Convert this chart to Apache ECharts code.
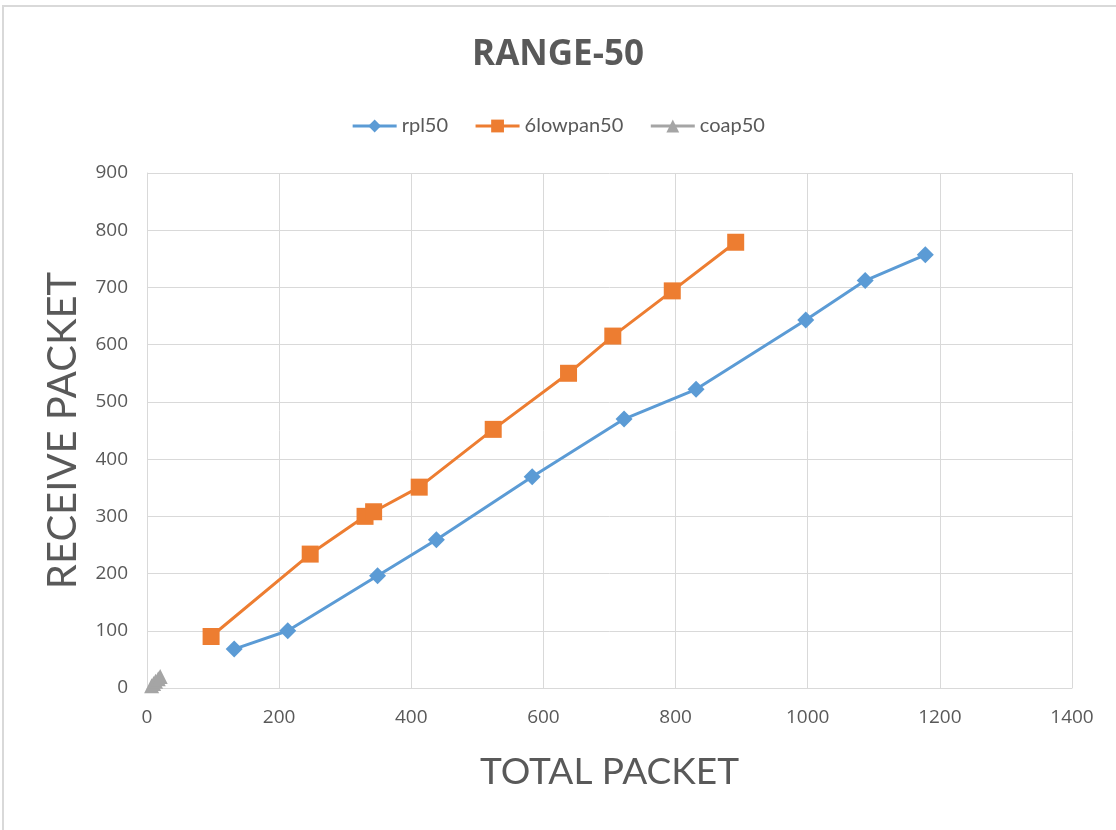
<!DOCTYPE html>
<html>
<head>
<meta charset="utf-8">
<title>RANGE-50</title>
<script src="https://cdn.jsdelivr.net/npm/echarts@6/dist/echarts.min.js"></script>
<style>
  html, body { margin: 0; padding: 0; background: #ffffff; }
  #chart { width: 1116px; height: 830px; }
</style>
</head>
<body>
<div id="chart"></div>
<script>
// Total packets sent vs. packets received, per protocol
const rplTotal = [132, 213, 349, 438, 583, 722, 831, 997, 1087, 1178];
const rplRecv  = [68, 100, 196, 259, 369, 470, 522, 643, 712, 757];

const lowpanTotal = [97, 247, 330, 343, 412, 524, 638, 705, 795, 891];
const lowpanRecv  = [90, 234, 300, 308, 351, 452, 550, 615, 694, 779];

const coapTotal = [7, 10, 13, 17, 20];
const coapRecv  = [4, 8, 12, 16, 20];

const xTicks = [0, 200, 400, 600, 800, 1000, 1200, 1400];
const yTicks = [0, 100, 200, 300, 400, 500, 600, 700, 800, 900];

const pairs = (xs, ys) => xs.map((x, i) => [x, ys[i]]);

const textGray = '#595959';
const gridGray = '#d9d9d9';
const font = 'Lato, "Open Sans", sans-serif';
const tickFont = '"Open Sans", sans-serif';

const chart = echarts.init(document.getElementById('chart'));
chart.setOption({
  animation: false,
  backgroundColor: '#ffffff',
  title: {
    text: 'RANGE-50',
    left: 'center',
    top: 33,
    textStyle: { fontFamily: '"Open Sans", sans-serif', fontWeight: 'bold', fontSize: 35, color: textGray }
  },
  legend: {
    top: 111,
    left: 'center',
    itemWidth: 44,
    itemHeight: 16,
    itemGap: 26,
    lineStyle: { width: 3 },
    textStyle: { fontFamily: font, fontSize: 20, color: textGray },
    data: ['rpl50', '6lowpan50', 'coap50']
  },
  grid: { left: 147, right: 44, top: 173, bottom: 142 },
  xAxis: {
    type: 'value',
    min: xTicks[0],
    max: xTicks[xTicks.length - 1],
    interval: 200,
    name: 'TOTAL PACKET',
    nameLocation: 'middle',
    nameGap: 66,
    nameTextStyle: { fontFamily: font, fontSize: 37, color: textGray },
    axisLine: { show: true, lineStyle: { color: gridGray, width: 1 } },
    axisTick: { show: false },
    axisLabel: { fontFamily: tickFont, fontSize: 19, color: textGray, margin: 20, formatter: v => String(v) },
    splitLine: { show: true, lineStyle: { color: gridGray, width: 1 } }
  },
  yAxis: {
    type: 'value',
    min: yTicks[0],
    max: yTicks[yTicks.length - 1],
    interval: 100,
    name: 'RECEIVE PACKET',
    nameLocation: 'middle',
    nameGap: 64,
    nameTextStyle: { fontFamily: font, fontSize: 40, color: textGray },
    axisLine: { show: true, lineStyle: { color: gridGray, width: 1 } },
    axisTick: { show: false },
    axisLabel: { fontFamily: tickFont, fontSize: 19, color: textGray, margin: 19, formatter: v => String(v) },
    splitLine: { show: true, lineStyle: { color: gridGray, width: 1 } }
  },
  series: [
    {
      name: 'rpl50',
      type: 'line',
      data: pairs(rplTotal, rplRecv),
      symbol: 'diamond',
      symbolSize: 17,
      lineStyle: { color: '#5B9BD5', width: 3 },
      itemStyle: { color: '#5B9BD5' }
    },
    {
      name: '6lowpan50',
      type: 'line',
      data: pairs(lowpanTotal, lowpanRecv),
      symbol: 'rect',
      symbolSize: 17,
      lineStyle: { color: '#ED7D31', width: 3 },
      itemStyle: { color: '#ED7D31' }
    },
    {
      name: 'coap50',
      type: 'line',
      data: pairs(coapTotal, coapRecv),
      symbol: 'triangle',
      symbolSize: 15,
      lineStyle: { color: '#A5A5A5', width: 3 },
      itemStyle: { color: '#A5A5A5' }
    }
  ],
  graphic: [
    {
      type: 'rect',
      shape: { x: 3, y: 6, width: 1200, height: 900 },
      style: { fill: 'none', stroke: gridGray, lineWidth: 2 },
      silent: true,
      z: -1
    }
  ]
});
</script>
</body>
</html>
